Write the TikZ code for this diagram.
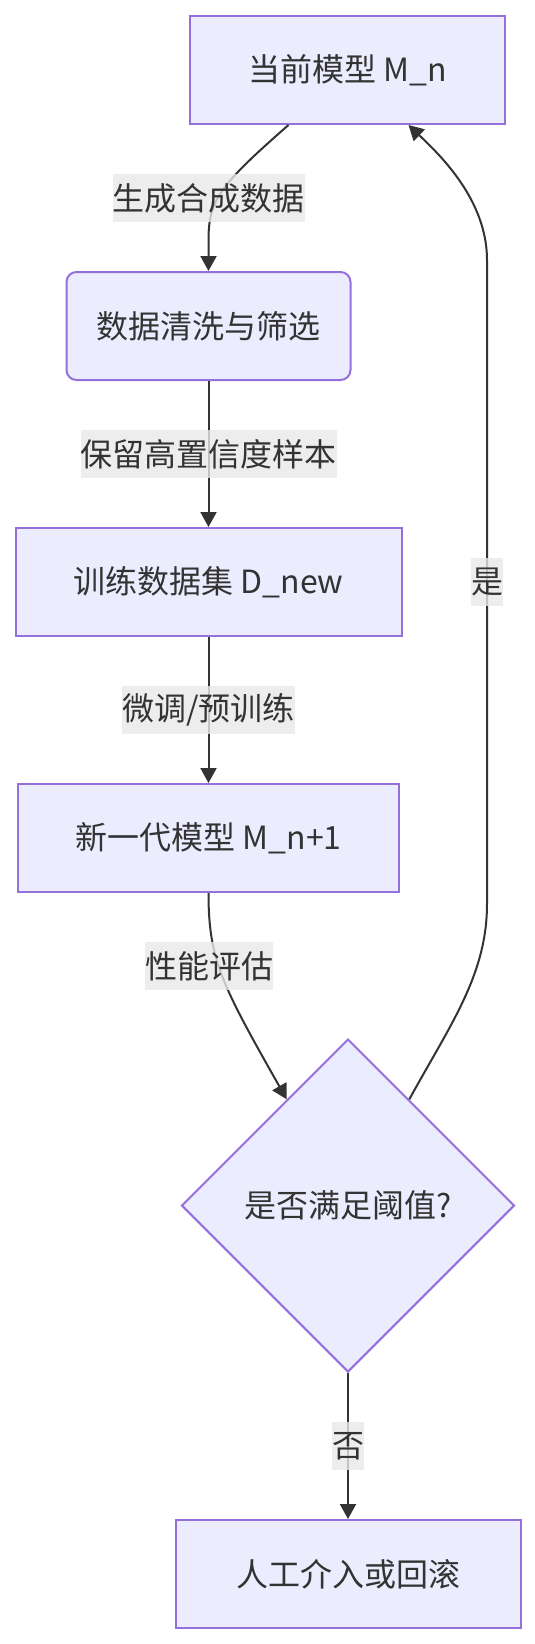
\documentclass[tikz,border=0pt]{standalone}
\usepackage{fontspec}
\setmainfont{Noto Sans CJK SC}
\usetikzlibrary{shapes.geometric,arrows.meta}
\definecolor{nodefill}{HTML}{ECECFF}
\definecolor{nodeline}{HTML}{9370DB}
\definecolor{edgeline}{HTML}{333333}
\definecolor{labelfill}{HTML}{E8E8E8}

\begin{document}
\begin{tikzpicture}[x=1pt, y=-1pt,
	box/.style={draw=nodeline, fill=nodefill, line width=2pt, minimum height=108pt, inner sep=0pt, text=edgeline, font=\fontsize{32pt}{40pt}\selectfont},
	decision/.style={box, diamond, aspect=1, minimum width=333pt, minimum height=333pt},
	edge/.style={draw=edgeline, line width=2pt, -{Triangle[length=15pt, width=16pt]}},
	edgelabel/.style={fill=labelfill, fill opacity=0.8, text opacity=1, text=edgeline, inner sep=0pt, minimum height=48pt, font=\fontsize{32pt}{40pt}\selectfont}]

	\useasboundingbox (0,0) rectangle (535,1644);

	\node [box, minimum width=315pt] (model) at (347.5,70) {当前模型 M\_n};
	\node [box, minimum width=284pt, rounded corners=10pt] (clean) at (208.5,326) {数据清洗与筛选};
	\node [box, minimum width=386pt] (trainset) at (208.5,582) {训练数据集 D\_new};
	\node [box, minimum width=381pt] (newmodel) at (208.5,838) {新一代模型 M\_n+1};
	\node [decision] (check) at (348,1205.5) {是否满足阈值?};
	\node [box, minimum width=345pt] (rollback) at (348,1574) {人工介入或回滚};

	\draw [edge] ([xshift=-59pt]model.south) .. controls (220,185) and (208.5,200) .. (208.5,240) -- (clean.north);
	\draw [edge] (clean.south) -- (trainset.north);
	\draw [edge] (trainset.south) -- (newmodel.north);
	\draw [edge] (newmodel.south) .. controls (208.5,960) and (222,985) .. (check.120);
	\draw [edge] (check.60) .. controls (450,1025) and (487,975) .. (487,904) -- (487,260) .. controls (487,200) and (440,155) .. ([xshift=61pt]model.south);
	\draw [edge] (check.south) -- (rollback.north);

	\node [edgelabel] (gen) at (208.5,198) {生成合成数据};
	\node [edgelabel] (keep) at (208.5,454) {保留高置信度样本};
	\node [edgelabel] (tune) at (208.5,710) {微调/预训练};
	\node [edgelabel] (eval) at (209,966) {性能评估};
	\node [edgelabel] (yes) at (487,582) {是};
	\node [edgelabel] (no) at (348,1446) {否};

\end{tikzpicture}
\end{document}
